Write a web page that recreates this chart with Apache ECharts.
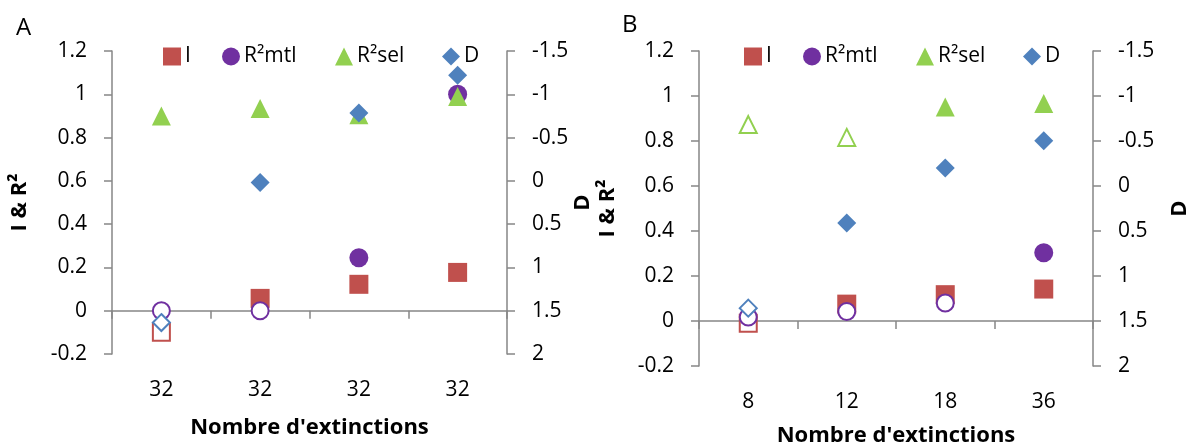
<!DOCTYPE html>
<html>
<head>
<meta charset="utf-8">
<script src="https://cdn.jsdelivr.net/npm/echarts@6/dist/echarts.min.js"></script>
<style>
  html, body { margin: 0; padding: 0; background: #fff; }
  #chart { width: 1190px; height: 443px; }
</style>
</head>
<body>
<div id="chart"></div>
<script>
// Categories (x axis) for both panels
const catsA = ['32', '32', '32', '32'];
const catsB = ['8', '12', '18', '36'];

// Panel A values
const iA   = [-0.10, 0.057, 0.122, 0.177];
const mtlA = [0.00, 0.00, 0.245, 1.00];
const selA = [0.90, 0.934, 0.905, 0.99];
const dA   = [1.637, 0.02, -0.784, -1.22];

// Panel B values
const iB   = [-0.01, 0.075, 0.117, 0.142];
const mtlB = [0.018, 0.042, 0.08, 0.303];
const selB = [0.873, 0.816, 0.951, 0.967];
const dB   = [1.357, 0.411, -0.199, -0.504];

// Hollow markers (non-significant points)
const openIA   = [true, false, false, false];
const openMtlA = [true, true, false, false];
const openSelA = [false, false, false, false];
const openDA   = [true, false, false, false];
const openIB   = [true, false, false, false];
const openMtlB = [true, true, true, false];
const openSelB = [true, true, false, false];
const openDB   = [true, false, false, false];

const COLORS = { I: '#C0504D', mtl: '#7030A0', sel: '#92D050', D: '#4F81BD' };
const FONT = 'Open Sans';
const AXIS_COLOR = '#868686';

function items(vals, open, color) {
  return vals.map((v, i) => {
    const it = { value: [i, v] };
    if (open[i]) {
      it.itemStyle = { color: '#ffffff', borderColor: color, borderWidth: 2 };
      it.symbolSize = 17;
    }
    return it;
  });
}

function series(name, vals, open, color, symbol, g, right) {
  return {
    name: name, type: 'scatter', symbol: symbol, symbolSize: 19,
    xAxisIndex: g, yAxisIndex: g * 2 + (right ? 1 : 0),
    itemStyle: { color: color, opacity: 1 },
    emphasis: { disabled: true },
    data: items(vals, open, color)
  };
}

function xAxis(g, cats, gap, margin) {
  return {
    gridIndex: g, type: 'category', data: cats, boundaryGap: true,
    axisLine: { lineStyle: { color: AXIS_COLOR, width: 1.5 } },
    axisTick: { show: true, length: 8, lineStyle: { color: AXIS_COLOR, width: 1.5 } },
    axisLabel: { fontFamily: FONT, fontSize: 21, color: '#000', margin: margin },
    name: "Nombre d'extinctions", nameLocation: 'middle', nameGap: gap,
    nameTextStyle: { fontFamily: FONT, fontSize: 22, fontWeight: 'bold', color: '#000' }
  };
}

function yLeft(g, gap) {
  return {
    gridIndex: g, type: 'value', min: -0.2, max: 1.2, interval: 0.2,
    axisLine: { show: true, lineStyle: { color: AXIS_COLOR, width: 1.5 } },
    axisTick: { show: true, length: 8, lineStyle: { color: AXIS_COLOR, width: 1.5 } },
    splitLine: { show: false },
    axisLabel: { fontFamily: FONT, fontSize: 21, color: '#000', margin: 25 },
    name: 'I & R²', nameLocation: 'middle', nameGap: gap, nameRotate: 90,
    nameTextStyle: { fontFamily: FONT, fontSize: 22, fontWeight: 'bold', color: '#000' }
  };
}

function yRight(g, gap) {
  return {
    gridIndex: g, type: 'value', position: 'right', inverse: true,
    min: -1.5, max: 2, interval: 0.5,
    axisLine: { show: true, lineStyle: { color: AXIS_COLOR, width: 1.5 } },
    axisTick: { show: true, length: 8, lineStyle: { color: AXIS_COLOR, width: 1.5 } },
    splitLine: { show: false },
    axisLabel: { fontFamily: FONT, fontSize: 21, color: '#000', margin: 25 },
    name: 'D', nameLocation: 'middle', nameGap: gap, nameRotate: 90,
    nameTextStyle: { fontFamily: FONT, fontSize: 22, fontWeight: 'bold', color: '#000' }
  };
}

function legendItem(name, left) {
  return {
    data: [name], left: left, top: 41, itemWidth: 18, itemHeight: 18, itemGap: 0,
    selectedMode: false,
    textStyle: { fontFamily: FONT, fontSize: 21, color: '#000', padding: [0, 0, 0, -1] }
  };
}

const legendNames = ['I', 'R²mtl', 'R²sel', 'D'];
const legendX = [158, 217, 330, 437];

const chart = echarts.init(document.getElementById('chart'), null, { renderer: 'canvas' });
chart.setOption({
  animation: false,
  backgroundColor: '#fff',
  title: [
    { text: 'A', left: 11, top: 11, textStyle: { fontFamily: FONT, fontSize: 24, fontWeight: 'normal', color: '#000' } },
    { text: 'B', left: 617, top: 8, textStyle: { fontFamily: FONT, fontSize: 24, fontWeight: 'normal', color: '#000' } }
  ],
  legend: legendNames.map((n, k) => legendItem(n, legendX[k]))
    .concat(legendNames.map((n, k) => legendItem(n, legendX[k] + 581))),
  grid: [
    { left: 112, right: 683, top: 51, bottom: 89, containLabel: false, outerBoundsMode: 'none' },
    { left: 699, right: 97, top: 51, bottom: 77, containLabel: false, outerBoundsMode: 'none' }
  ],
  xAxis: [xAxis(0, catsA, 63, 26), xAxis(1, catsB, 59, 26)],
  yAxis: [yLeft(0, 81), yRight(0, 61), yLeft(1, 80), yRight(1, 76)],
  series: [
    series('I', iA, openIA, COLORS.I, 'rect', 0, false),
    series('R²mtl', mtlA, openMtlA, COLORS.mtl, 'circle', 0, false),
    series('R²sel', selA, openSelA, COLORS.sel, 'triangle', 0, false),
    series('D', dA, openDA, COLORS.D, 'diamond', 0, true),
    series('I', iB, openIB, COLORS.I, 'rect', 1, false),
    series('R²mtl', mtlB, openMtlB, COLORS.mtl, 'circle', 1, false),
    series('R²sel', selB, openSelB, COLORS.sel, 'triangle', 1, false),
    series('D', dB, openDB, COLORS.D, 'diamond', 1, true)
  ]
});
</script>
</body>
</html>
